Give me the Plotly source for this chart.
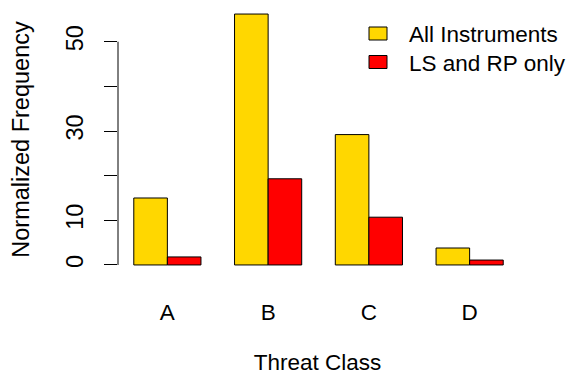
import plotly.graph_objects as go

# Threat classes and normalized frequencies per instrument set
classes = ["A", "B", "C", "D"]
all_instruments = [15.0, 56.2, 29.2, 3.8]
ls_rp_only = [1.8, 19.3, 10.7, 1.1]

series_names = ["All Instruments", "LS and RP only"]
series_colors = ["#FFD700", "#FF0000"]

# y axis ticks (R-style: some labels dropped to avoid overlap)
y_tickvals = [0, 10, 20, 30, 40, 50]
y_ticktext = ["0", "10", "", "30", "", "50"]

FONT = "Liberation Sans, Arial, sans-serif"
FS_H = 22.5   # horizontal text
FS_V = 23.5   # rotated text on the y axis
W, H = 567, 375
M = dict(l=118, r=50, t=4, b=100)

fig = go.Figure()
for name, color, vals in zip(series_names, series_colors,
                             [all_instruments, ls_rp_only]):
    fig.add_trace(go.Bar(
        x=classes, y=vals, name=name,
        marker=dict(color=color, line=dict(color="black", width=1)),
        showlegend=False,
    ))

ymax = max(all_instruments + ls_rp_only)
ypad = 0.04 * ymax

fig.update_layout(
    width=W, height=H,
    margin=M,
    plot_bgcolor="white", paper_bgcolor="white",
    barmode="group", bargap=1/3, bargroupgap=0,
    font=dict(family=FONT, size=FS_H, color="black"),
    xaxis=dict(
        range=[-0.49, 3.47], showline=False, ticks="", showgrid=False,
        zeroline=False, ticklabelstandoff=21, automargin=False,
        tickfont=dict(size=FS_H),
        title=dict(text="Threat Class", standoff=36, font=dict(size=FS_H)),
    ),
    yaxis=dict(
        range=[-ypad, ymax + ypad], tickvals=y_tickvals, ticktext=y_ticktext,
        tickangle=-90, ticks="outside", ticklen=13, tickcolor="black",
        tickwidth=1, showline=False, showgrid=False, zeroline=False,
        ticklabelstandoff=12, automargin=False, tickfont=dict(size=FS_V),
        title=dict(text="Normalized Frequency", standoff=25, font=dict(size=FS_V)),
    ),
)

# y axis line spans only the tick range, as in base R graphics
fig.add_shape(
    type="line", xref="paper", yref="y",
    x0=0, x1=0, y0=min(y_tickvals), y1=max(y_tickvals),
    line=dict(color="black", width=1),
)

# Legend drawn in base-R style: filled boxes with outline, text to the right
pw = W - M["l"] - M["r"]
ph = H - M["t"] - M["b"]


def px_x(p):
    return (p - M["l"]) / pw


def px_y(p):
    return (H - M["b"] - p) / ph


box_left, box_w, box_h = 369, 18, 13
text_left = 407
row_top, row_step = 27, 28.5
for i, (name, color) in enumerate(zip(series_names, series_colors)):
    top = row_top + i * row_step
    fig.add_shape(
        type="rect", xref="paper", yref="paper",
        x0=px_x(box_left), x1=px_x(box_left + box_w),
        y0=px_y(top + box_h), y1=px_y(top),
        fillcolor=color, line=dict(color="black", width=1),
    )
    fig.add_annotation(
        xref="paper", yref="paper", x=px_x(text_left), y=px_y(top + box_h / 2 + 1),
        xanchor="left", yanchor="middle", showarrow=False,
        text=name, font=dict(size=FS_H, family=FONT, color="black"),
    )

fig.write_html("out.html")
